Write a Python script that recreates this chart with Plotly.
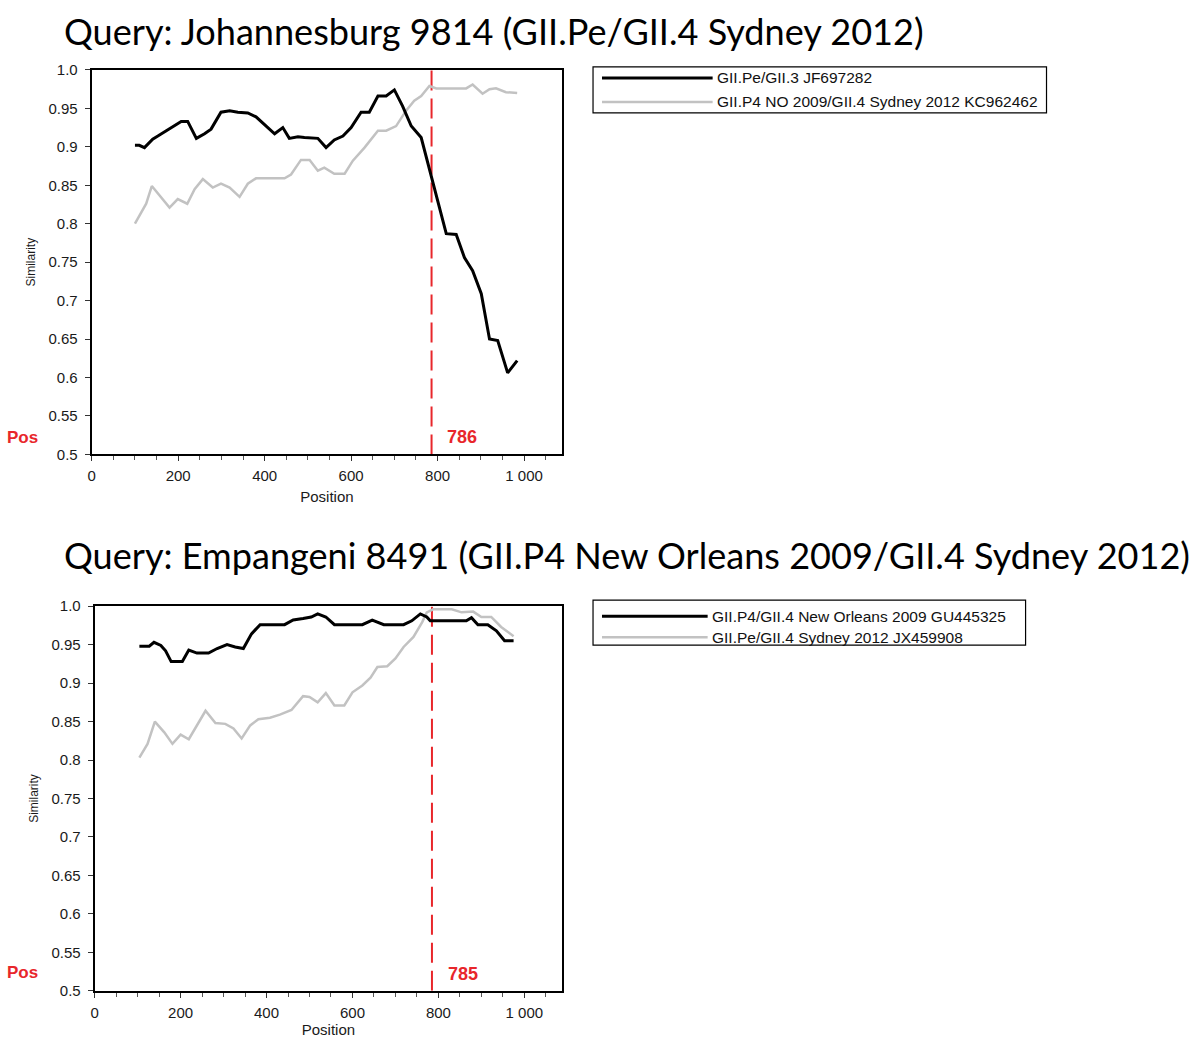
import plotly.graph_objects as go

W, H = 1200, 1043

# ---------------- data ----------------
titles = ["Query: Johannesburg 9814 (GII.Pe/GII.4 Sydney 2012)",
          "Query: Empangeni 8491 (GII.P4 New Orleans 2009/GII.4 Sydney 2012)"]

top_black_name = "GII.Pe/GII.3 JF697282"
top_black_x = [100, 110, 122, 141, 153, 168, 184, 207, 222, 242, 261, 276, 299, 319, 338, 361, 380,
               403, 423, 442, 457, 477, 492, 523, 542, 561, 581, 600, 623, 642, 662, 681, 700, 719,
               739, 762, 785, 800, 820, 843, 862, 881, 901, 920, 939, 962, 984]
top_black_y = [0.902, 0.902, 0.899, 0.910, 0.914, 0.919, 0.925, 0.933, 0.933, 0.911, 0.917, 0.923,
               0.945, 0.947, 0.945, 0.944, 0.939, 0.927, 0.917, 0.925, 0.911, 0.913, 0.912, 0.911,
               0.899, 0.909, 0.914, 0.925, 0.945, 0.945, 0.966, 0.966, 0.974, 0.953, 0.927, 0.912,
               0.862, 0.830, 0.787, 0.786, 0.756, 0.739, 0.709, 0.650, 0.648, 0.606, 0.622]

top_gray_name = "GII.P4 NO 2009/GII.4 Sydney 2012 KC962462"
top_gray_x = [100, 126, 139, 161, 180, 199, 221, 238, 257, 280, 299, 319, 342, 361, 380, 407, 446,
              461, 484, 504, 523, 538, 561, 585, 604, 631, 662, 681, 704, 727, 746, 762, 781, 797,
              823, 866, 881, 904, 920, 935, 958, 984]
top_gray_y = [0.800, 0.826, 0.849, 0.834, 0.821, 0.832, 0.826, 0.845, 0.858, 0.847, 0.852, 0.847,
              0.835, 0.852, 0.859, 0.859, 0.859, 0.864, 0.883, 0.883, 0.869, 0.873, 0.865, 0.865,
              0.882, 0.899, 0.921, 0.921, 0.927, 0.947, 0.960, 0.966, 0.979, 0.976, 0.976, 0.976,
              0.981, 0.969, 0.975, 0.976, 0.971, 0.970]

bot_black_name = "GII.P4/GII.4 New Orleans 2009 GU445325"
bot_black_x = [104, 127, 138, 154, 165, 178, 204, 219, 238, 265, 285, 308, 327, 346, 365, 385, 442,
               462, 485, 504, 519, 538, 558, 623, 646, 673, 719, 738, 758, 773, 781, 823, 865, 877,
               892, 915, 935, 954, 975]
bot_black_y = [0.948, 0.948, 0.953, 0.949, 0.942, 0.928, 0.928, 0.943, 0.939, 0.939, 0.945, 0.950,
               0.947, 0.945, 0.964, 0.976, 0.976, 0.982, 0.984, 0.986, 0.990, 0.986, 0.976, 0.976,
               0.982, 0.976, 0.976, 0.981, 0.990, 0.986, 0.981, 0.981, 0.981, 0.985, 0.976, 0.976,
               0.968, 0.955, 0.955]

bot_gray_name = "GII.Pe/GII.4 Sydney 2012 JX459908"
bot_gray_x = [104, 123, 140, 162, 181, 200, 219, 238, 258, 281, 304, 323, 342, 362, 381, 408, 431,
              458, 485, 500, 519, 538, 558, 581, 600, 623, 642, 658, 681, 700, 719, 742, 762, 773,
              788, 831, 854, 881, 900, 923, 946, 975]
bot_gray_y = [0.803, 0.821, 0.850, 0.836, 0.821, 0.833, 0.827, 0.845, 0.864, 0.848, 0.847, 0.841,
              0.828, 0.845, 0.853, 0.855, 0.859, 0.865, 0.883, 0.882, 0.875, 0.887, 0.871, 0.871,
              0.888, 0.897, 0.907, 0.921, 0.922, 0.932, 0.947, 0.960, 0.979, 0.992, 0.996, 0.996,
              0.992, 0.993, 0.986, 0.986, 0.973, 0.961]

breakpoints = [786, 785]

y_ticks = [0.5, 0.55, 0.6, 0.65, 0.7, 0.75, 0.8, 0.85, 0.9, 0.95, 1.0]
y_tick_text = ["0.5", "0.55", "0.6", "0.65", "0.7", "0.75", "0.8", "0.85", "0.9", "0.95", "1.0"]
x_ticks = [0, 200, 400, 600, 800, 1000]
x_tick_text = ["0", "200", "400", "600", "800", "1 000"]
x_minor = list(range(0, 1100, 50))

# ---------------- figure ----------------
# target pixel (in the photographed page) -> paper fraction, compensating the page placement
def px(x):
    return (x - 2) / W

def py(y):
    return 1 - ((y - 8) / 0.985) / H

BLACK = "#000000"
GRAY = "#c2c2c2"
RED = "#e8262b"
SANS = "Liberation Sans, Arial, sans-serif"
TICKFONT = dict(family=SANS, size=15, color="#1a1a1a")

fig = go.Figure()

panels = [
    dict(xa="x", ya="y", bx=top_black_x, by=top_black_y, bn=top_black_name,
         gx=top_gray_x, gy=top_gray_y, gn=top_gray_name, bp=breakpoints[0],
         dom_x=[px(90), px(562)], dom_y=[py(454), py(69)],
         legend_box=(593, 66, 1048, 112), leg_y=(77, 101), line_x=(602, 713), text_x=715,
         title_y=29.9, pos_y=437, pos_standoff=8),
    dict(xa="x2", ya="y2", bx=bot_black_x, by=bot_black_y, bn=bot_black_name,
         gx=bot_gray_x, gy=bot_gray_y, gn=bot_gray_name, bp=breakpoints[1],
         dom_x=[px(93), px(562)], dom_y=[py(991), py(606)],
         legend_box=(593, 600, 1027, 645), leg_y=(616, 637), line_x=(602, 708), text_x=710,
         title_y=555, pos_y=973, pos_standoff=4),
]

shapes = []
annotations = []

for i, p in enumerate(panels):
    fig.add_trace(go.Scatter(x=[p["bp"], p["bp"]], y=[0.5, 1.0], mode="lines",
                             line=dict(color=RED, width=2, dash="20px,8px"),
                             xaxis=p["xa"], yaxis=p["ya"], showlegend=False, hoverinfo="skip"))
    fig.add_trace(go.Scatter(x=p["gx"], y=p["gy"], mode="lines", name=p["gn"],
                             line=dict(color=GRAY, width=2.5), xaxis=p["xa"], yaxis=p["ya"],
                             showlegend=False))
    fig.add_trace(go.Scatter(x=p["bx"], y=p["by"], mode="lines", name=p["bn"],
                             line=dict(color=BLACK, width=3), xaxis=p["xa"], yaxis=p["ya"],
                             showlegend=False))

    sfx = "" if i == 0 else "2"
    axis_common = dict(showline=True, linecolor="#000000", linewidth=2, mirror=True,
                       ticks="outside", ticklen=5, tickcolor="#333333", showgrid=False,
                       zeroline=False, tickfont=TICKFONT)
    fig.update_layout(**{
        "xaxis" + sfx: dict(axis_common, domain=p["dom_x"], range=[0, 1088], anchor="y" + sfx,
                            tickvals=x_ticks, ticktext=x_tick_text, ticklabelstandoff=2,
                            minor=dict(tickvals=x_minor, ticks="outside", ticklen=4,
                                       tickcolor="#555555"),
                            title=dict(text="Position", font=TICKFONT,
                                       standoff=p["pos_standoff"])),
        "yaxis" + sfx: dict(axis_common, domain=p["dom_y"], range=[0.5, 1.0], anchor="x" + sfx,
                            tickvals=y_ticks, ticktext=y_tick_text, ticklabelstandoff=4,
                            title=dict(text="Similarity", font=dict(TICKFONT, size=12),
                                       standoff=10)),
    })

    # title
    annotations.append(dict(text=titles[i], xref="paper", yref="paper", x=px(60), y=py(p["title_y"]),
                            xanchor="left", yanchor="middle", showarrow=False,
                            font=dict(family="Lato, sans-serif", size=36.1, color="#000000")))
    # Pos label
    annotations.append(dict(text="<b>Pos</b>", xref="paper", yref="paper", x=px(21), y=py(p["pos_y"]),
                            xanchor="center", yanchor="middle", showarrow=False,
                            font=dict(family=SANS, size=17, color=RED)))
    # breakpoint label
    annotations.append(dict(text="<b>%d</b>" % p["bp"], xref=p["xa"], yref=p["ya"],
                            x=817, y=0.522, xanchor="left", yanchor="middle",
                            showarrow=False,
                            font=dict(family=SANS, size=18, color=RED)))
    # custom legend
    x0, y0, x1, y1 = p["legend_box"]
    shapes.append(dict(type="rect", xref="paper", yref="paper", x0=px(x0), x1=px(x1),
                       y0=py(y1), y1=py(y0), line=dict(color="#000000", width=1.2),
                       fillcolor="white", layer="above"))
    for ly, col, wdt, name in [(p["leg_y"][0], BLACK, 3, p["bn"]), (p["leg_y"][1], GRAY, 2.5, p["gn"])]:
        shapes.append(dict(type="line", xref="paper", yref="paper", x0=px(p["line_x"][0]),
                           x1=px(p["line_x"][1]), y0=py(ly), y1=py(ly),
                           line=dict(color=col, width=wdt), layer="above"))
        annotations.append(dict(text=name, xref="paper", yref="paper", x=px(p["text_x"]), y=py(ly),
                                xanchor="left", yanchor="middle", showarrow=False,
                                font=dict(family=SANS, size=15.5, color="#111111")))

fig.update_layout(width=W, height=H, margin=dict(l=0, r=0, t=0, b=0),
                  paper_bgcolor="white", plot_bgcolor="white", showlegend=False,
                  shapes=shapes, annotations=annotations)

# remove the default page margin so the figure sits at the top-left corner of the page
fig.write_html("out.html", config={"displayModeBar": False},
               post_script="document.body.style.margin='0';"
                           "document.documentElement.style.overflow='hidden';")
